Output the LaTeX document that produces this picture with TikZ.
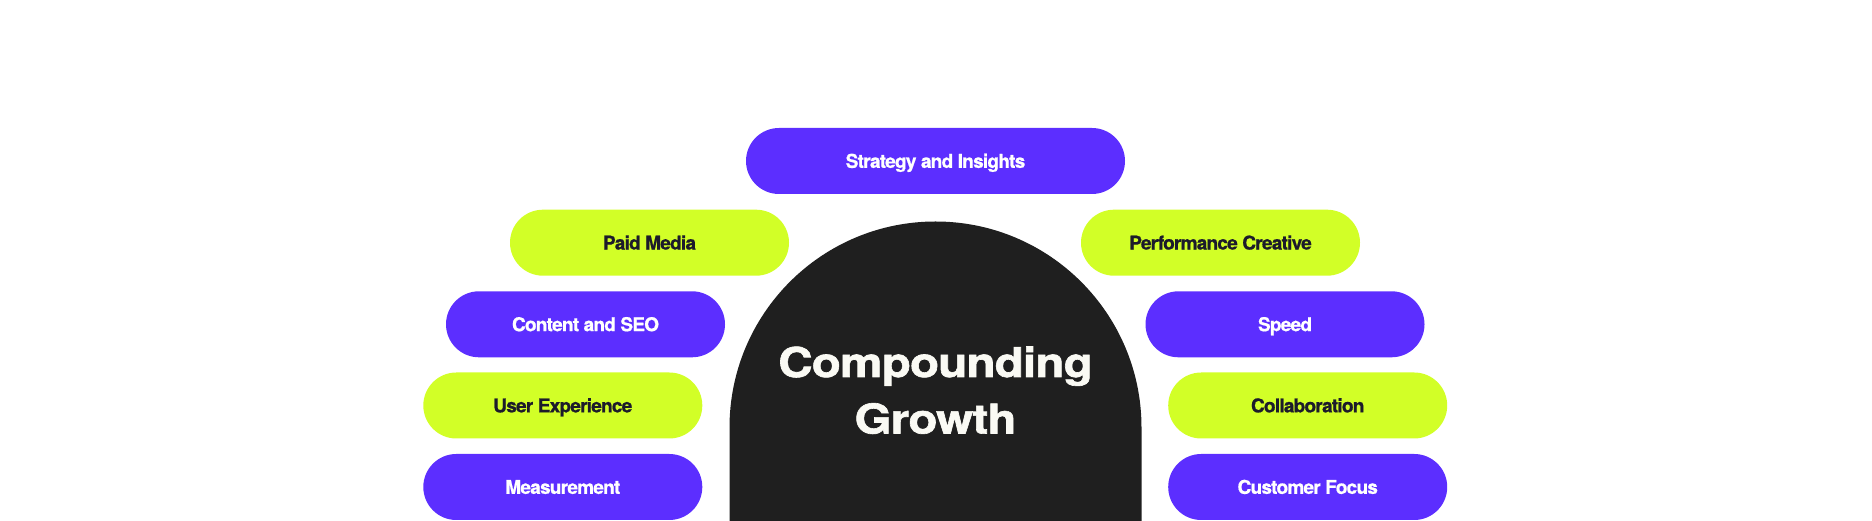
\documentclass[tikz,border=0pt]{standalone}
\usepackage{fontspec}
\setmainfont{TeX Gyre Heros}
\newfontfamily\pillfont[LetterSpace=-4,FakeBold=0.8]{TeX Gyre Heros}
\newfontfamily\titlefont[FakeStretch=1.16,LetterSpace=-2,FakeBold=1.5]{TeX Gyre Heros}
\usetikzlibrary{positioning}
\definecolor{brandpurple}{RGB}{92, 46, 255}
\definecolor{brandlime}{RGB}{210, 255, 39}
\definecolor{archblack}{RGB}{31, 31, 31}
\definecolor{inkdark}{RGB}{28, 27, 43}
\definecolor{titlewhite}{RGB}{250, 250, 244}

\tikzset{
  pill/.style={rectangle, rounded corners=33pt, minimum width=279pt, minimum height=66pt,
    inner sep=0pt, text height=13.7pt, text depth=0pt,
    font=\pillfont\bfseries\fontsize{19}{22}\selectfont},
  purplepill/.style={pill, fill=brandpurple, text=white},
  limepill/.style={pill, fill=brandlime, text=inkdark},
  titleline/.style={anchor=base, inner sep=0pt, text=titlewhite,
    font=\titlefont\bfseries\fontsize{41}{57}\selectfont}
}

\begin{document}
\begin{tikzpicture}[x=1pt, y=1pt]
  \useasboundingbox (0, 0) rectangle (1872, 521);

  % Arch
  \fill[archblack] (729.5, 0) -- (729.5, 93.5) arc[start angle=180, end angle=0, radius=206] -- (1141.5, 0) -- cycle;
  \node[titleline] (title1) at (935.5, 144) {Compounding};
  \node[titleline] (title2) at (935.5, 87.5) {Growth};

  % Top
  \node[purplepill, minimum width=379pt] (strategy) at (935.5, 360) {Strategy and Insights};

  % Left side
  \node[limepill] (paid) at (649.5, 278.3) {Paid Media};
  \node[purplepill] (content) at (585.5, 196.7) {Content and SEO};
  \node[limepill] (ux) at (562.8, 115.5) {User Experience};
  \node[purplepill] (measure) at (562.8, 34) {Measurement};

  % Right side
  \node[limepill] (creative) at (1220.5, 278.3) {Performance Creative};
  \node[purplepill] (speed) at (1285, 196.7) {Speed};
  \node[limepill] (collab) at (1307.7, 115.5) {Collaboration};
  \node[purplepill] (customer) at (1307.7, 34) {Customer Focus};
\end{tikzpicture}
\end{document}
